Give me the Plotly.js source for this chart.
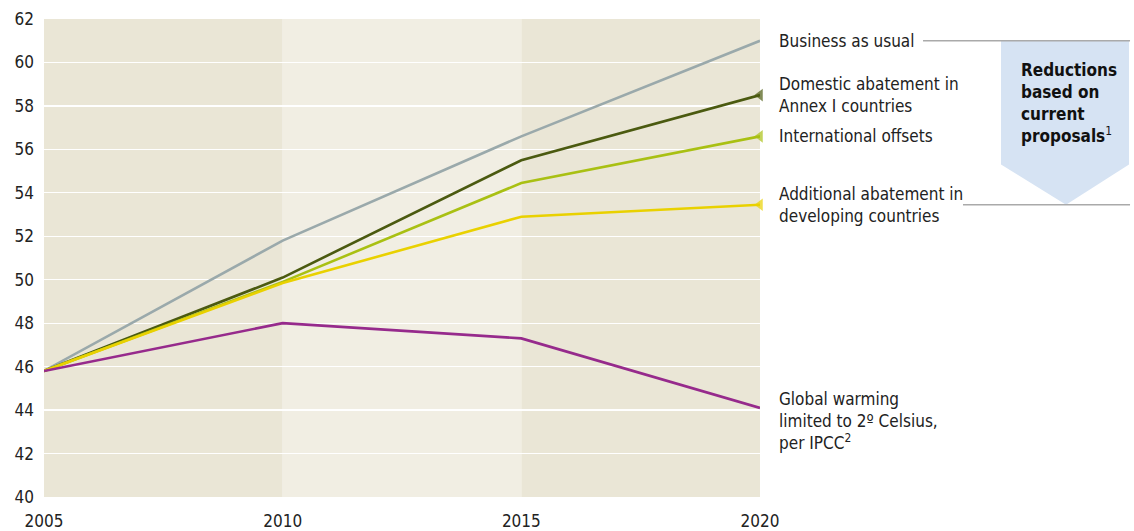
<!DOCTYPE html>
<html>
<head>
<meta charset="utf-8">
<script src="https://cdn.plot.ly/plotly-3.0.1.min.js"></script>
<style>html,body{margin:0;padding:0;background:#fff;}#chart{width:1134px;height:531px;}</style>
</head>
<body>
<div id="chart"></div>
<script>
const years = [2005, 2010, 2015, 2020];
const businessAsUsual = [45.8, 51.8, 56.6, 61.0];
const domesticAbatement = [45.8, 50.1, 55.5, 58.5];
const internationalOffsets = [45.8, 49.9, 54.45, 56.6];
const additionalAbatement = [45.8, 49.85, 52.9, 53.45];
const globalWarming2C = [45.8, 48.0, 47.3, 44.1];

const seriesNames = [
  "Business as usual",
  "Domestic abatement in<br>Annex I countries",
  "International offsets",
  "Additional abatement in<br>developing countries",
  "Global warming<br>limited to 2º Celsius,<br>per IPCC<sup>2</sup>"
];
const seriesValues = [businessAsUsual, domesticAbatement, internationalOffsets, additionalAbatement, globalWarming2C];
const seriesColors = ["#9aa9ab", "#4b5a10", "#a9c013", "#e9d100", "#962a8c"];
const hasEndMarker = [false, true, true, true, false];
const labelShift = [0, 0, 0, 0, -13];

const yTicks = [40, 42, 44, 46, 48, 50, 52, 54, 56, 58, 60, 62];
const xTicks = [2005, 2010, 2015, 2020];

const FONT = '"DejaVu Sans Condensed", "Liberation Sans Narrow", "Liberation Sans", sans-serif';

const traces = seriesValues.map((vals, i) => ({
  x: years,
  y: vals,
  type: "scatter",
  mode: hasEndMarker[i] ? "lines+markers" : "lines",
  line: {color: seriesColors[i], width: 2.6},
  marker: {
    symbol: "triangle-left",
    size: vals.map((v, j) => j === vals.length - 1 ? 11 : 0),
    color: seriesColors[i],
    line: {width: 0}
  },
  cliponaxis: false,
  hoverinfo: "skip",
  showlegend: false
}));

const annotations = seriesValues.map((vals, i) => ({
  xref: "paper", yref: "y",
  x: 1.0237, y: vals[vals.length - 1],
  xanchor: "left", yanchor: "middle", align: "left",
  yshift: labelShift[i],
  text: seriesNames[i],
  showarrow: false,
  font: {family: FONT, size: 17, color: "#222"}
}));

annotations.push({
  xref: "paper", yref: "y",
  x: 1.3617, y: 60.2,
  xanchor: "left", yanchor: "top", align: "left",
  text: "<b>Reductions<br>based on<br>current<br>proposals</b><sup>1</sup>",
  showarrow: false,
  font: {family: FONT, size: 17, color: "#111"}
});

const bau = businessAsUsual[businessAsUsual.length - 1];
const add = additionalAbatement[additionalAbatement.length - 1];

const shapes = [
  {type: "rect", xref: "x", yref: "paper", x0: 2005, x1: 2010, y0: 0, y1: 1, fillcolor: "#eae6d6", line: {width: 0}, layer: "below"},
  {type: "rect", xref: "x", yref: "paper", x0: 2010, x1: 2015, y0: 0, y1: 1, fillcolor: "#f1eee3", line: {width: 0}, layer: "below"},
  {type: "rect", xref: "x", yref: "paper", x0: 2015, x1: 2020, y0: 0, y1: 1, fillcolor: "#eae6d6", line: {width: 0}, layer: "below"},
  {type: "path", xref: "paper", yref: "y",
   path: `M 1.3366 ${bau} L 1.5154 ${bau} L 1.5154 55.3 L 1.4274 ${add} L 1.3366 55.3 Z`,
   fillcolor: "#d6e3f3", line: {width: 0}, layer: "below"},
  {type: "line", xref: "paper", yref: "y", x0: 1.2277, x1: 1.5168, y0: bau, y1: bau, line: {color: "#aaaaaa", width: 1.5}},
  {type: "line", xref: "paper", yref: "y", x0: 1.2835, x1: 1.5168, y0: add, y1: add, line: {color: "#aaaaaa", width: 1.5}}
];

const layout = {
  width: 1134, height: 531,
  margin: {l: 44, r: 374, t: 19, b: 34, pad: 0},
  paper_bgcolor: "#ffffff",
  plot_bgcolor: "#ffffff",
  font: {family: FONT, size: 17, color: "#222"},
  xaxis: {
    range: [2005, 2020], tickvals: xTicks, ticktext: xTicks.map(String),
    showgrid: false, zeroline: false, showline: false, ticks: "",
    ticklabelstandoff: 12,
    tickfont: {family: FONT, size: 17, color: "#222"}, fixedrange: true
  },
  yaxis: {
    range: [40, 62], tickvals: yTicks, ticktext: yTicks.map(String),
    showgrid: true, gridcolor: "#ffffff", gridwidth: 1.3,
    zeroline: false, showline: false, ticks: "", ticklabelstandoff: 9,
    tickfont: {family: FONT, size: 17, color: "#222"}, fixedrange: true
  },
  shapes: shapes,
  annotations: annotations
};

Plotly.newPlot("chart", traces, layout, {displayModeBar: false, staticPlot: true});
</script>
</body>
</html>
